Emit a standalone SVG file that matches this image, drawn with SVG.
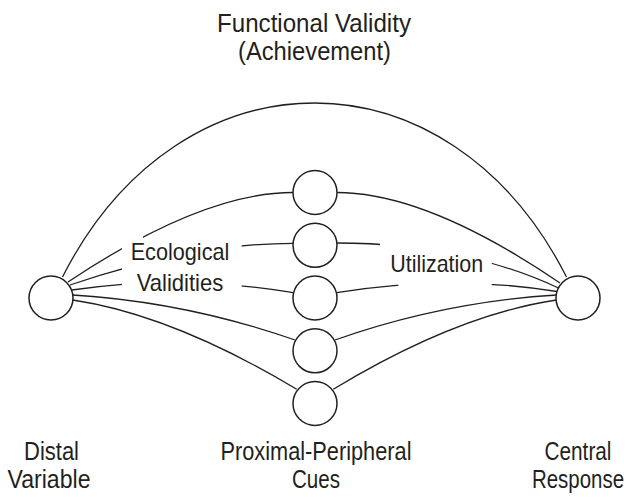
<svg xmlns="http://www.w3.org/2000/svg" width="637" height="497" viewBox="0 0 637 497">
<style>
  .node { fill: #fff; stroke: #231f20; stroke-width: 1.5; }
  .edge { fill: none; stroke: #231f20; stroke-width: 1.3; }
  .lbl { font-family: "Liberation Sans", Arial, sans-serif; font-size: 26px; fill: #231f20; text-anchor: middle; }
  .mid { font-size: 24px; }
  .low { font-size: 25px; }
</style>
<defs>
  <clipPath id="gapL1" clipPathUnits="userSpaceOnUse"><rect x="0" y="0" width="122" height="497"/><rect x="143" y="0" width="494" height="497"/></clipPath>
  <clipPath id="gapL23" clipPathUnits="userSpaceOnUse"><rect x="0" y="0" width="122" height="497"/><rect x="241.7" y="0" width="400" height="497"/></clipPath>
  <clipPath id="gapR2" clipPathUnits="userSpaceOnUse"><rect x="0" y="0" width="380" height="497"/><rect x="491.7" y="0" width="200" height="497"/></clipPath>
  <clipPath id="gapR3" clipPathUnits="userSpaceOnUse"><rect x="0" y="0" width="398.3" height="497"/><rect x="491.7" y="0" width="200" height="497"/></clipPath>
</defs>

<g id="connectors">
  <path id="achievement" class="edge" d="M62.5,277 C180,45 449,45 566.5,277"/>
  <path class="edge" clip-path="url(#gapL1)" d="M68,282 Q202,192.5 293,192.5"/>
  <path class="edge" clip-path="url(#gapL23)" d="M70,285 Q192,243.5 293,243.3"/>
  <path class="edge" clip-path="url(#gapL23)" d="M71.7,290 Q182,274 293.3,292.7"/>
  <path class="edge" d="M72.7,295 Q186,302 295,340"/>
  <path class="edge" d="M72.7,300 Q173,315 296.7,389.3"/>
  <path class="edge" d="M336.7,192.5 Q427,192.5 560,283"/>
  <path class="edge" clip-path="url(#gapR2)" d="M336.7,243 Q462,243 558.5,288"/>
  <path class="edge" clip-path="url(#gapR3)" d="M336.7,292.7 Q447,274 557,291.5"/>
  <path class="edge" d="M335,340 Q443,302 556.5,295"/>
  <path class="edge" d="M333.3,389.3 Q456,315 556.5,300"/>
</g>

<g id="distal">
  <circle class="node" cx="51" cy="298" r="22"/>
  <text class="lbl" x="51.5" y="459.5" textLength="55" lengthAdjust="spacingAndGlyphs">Distal</text>
  <text class="lbl low" x="49" y="488" textLength="83" lengthAdjust="spacingAndGlyphs">Variable</text>
</g>

<g id="cue1"><circle class="node" cx="315" cy="192.5" r="22"/></g>
<g id="cue2"><circle class="node" cx="315" cy="245.3" r="22"/></g>
<g id="cue3"><circle class="node" cx="315" cy="298" r="22"/></g>
<g id="cue4"><circle class="node" cx="315" cy="350.8" r="22"/></g>
<g id="cue5"><circle class="node" cx="315" cy="403.5" r="22"/></g>

<g id="cues-label">
  <text class="lbl" x="316" y="459.5" textLength="191" lengthAdjust="spacingAndGlyphs">Proximal-Peripheral</text>
  <text class="lbl low" x="316" y="488" textLength="48" lengthAdjust="spacingAndGlyphs">Cues</text>
</g>

<g id="central">
  <circle class="node" cx="578" cy="298" r="22"/>
  <text class="lbl" x="578" y="459.5" textLength="67" lengthAdjust="spacingAndGlyphs">Central</text>
  <text class="lbl low" x="578" y="488" textLength="92" lengthAdjust="spacingAndGlyphs">Response</text>
</g>

<g id="functional-validity-label">
  <text class="lbl" x="314" y="31.5" textLength="194" lengthAdjust="spacingAndGlyphs">Functional Validity</text>
  <text class="lbl" x="314.5" y="60" textLength="153" lengthAdjust="spacingAndGlyphs">(Achievement)</text>
</g>

<g id="ecological-label">
  <text class="lbl mid" x="180" y="260" textLength="98.6" lengthAdjust="spacingAndGlyphs">Ecological</text>
  <text class="lbl mid" x="180" y="291" textLength="86.6" lengthAdjust="spacingAndGlyphs">Validities</text>
</g>

<g id="utilization-label">
  <text class="lbl mid" x="436.7" y="271.7" textLength="93" lengthAdjust="spacingAndGlyphs">Utilization</text>
</g>
</svg>
